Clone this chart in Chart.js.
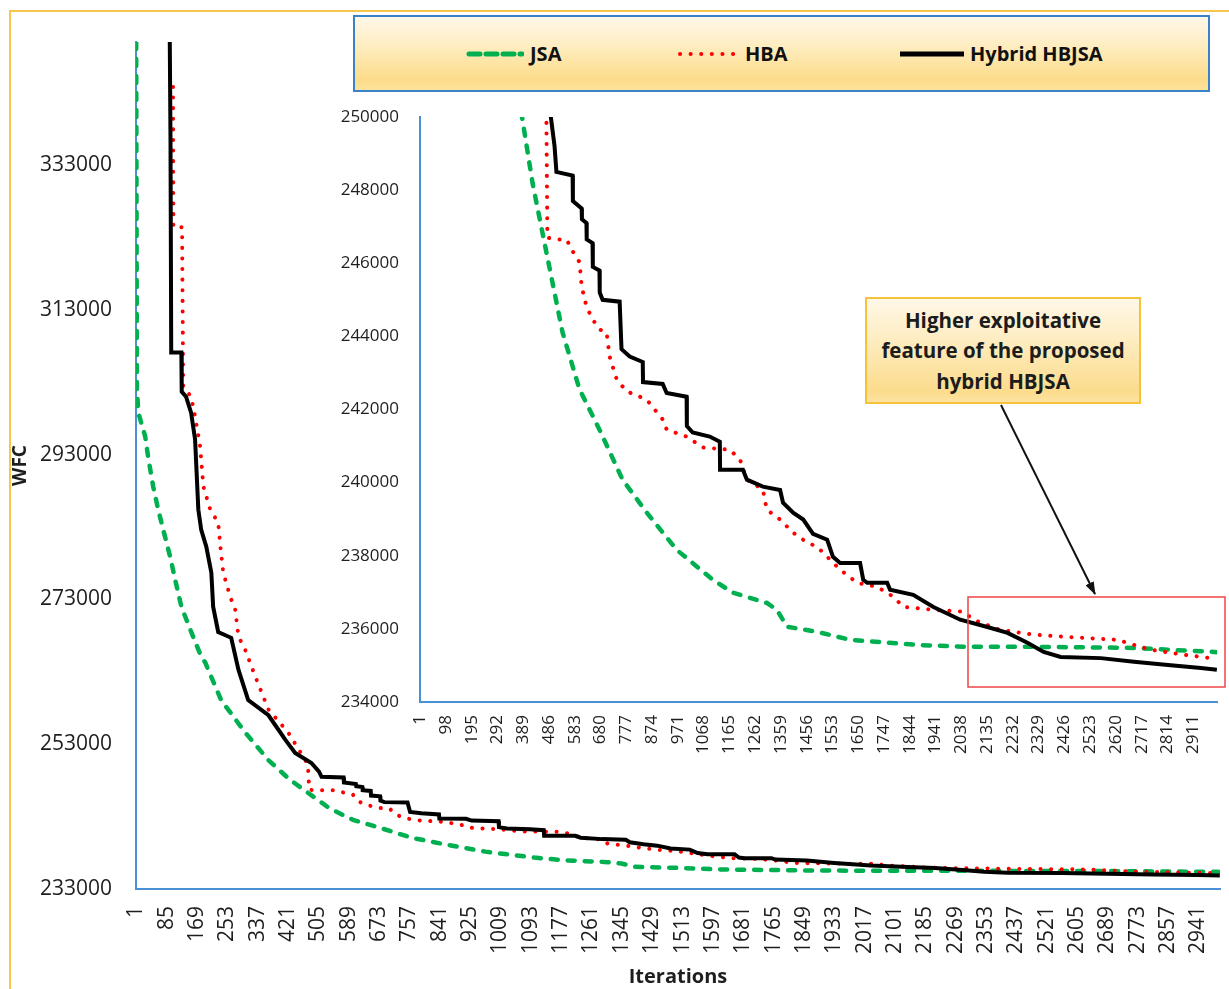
<!DOCTYPE html>
<html>
<head>
<meta charset="utf-8">
<script src="https://cdn.jsdelivr.net/npm/chart.js@4.4.0/dist/chart.umd.min.js"></script>
<style>
  body { margin: 0; background: #fff; }
  #wrap { position: relative; width: 1229px; height: 989px; overflow: hidden; background: #fff; font-family: 'Open Sans', sans-serif; }
  #frame { position: absolute; left: 9px; top: 10px; width: 1300px; height: 1100px; border-left: 2px solid #f7c64c; border-top: 2px solid #f7c64c; }
  canvas { position: absolute; left: 0; top: 0; }
  #marks { position: absolute; left: 0; top: 0; pointer-events: none; }
  #legend { position: absolute; left: 353px; top: 15px; width: 853px; height: 73px; border: 2px solid #3a82c8;
    background: linear-gradient(to bottom, #fff7e9 0%, #feedc0 40%, #fcdc8a 85%, #fde29c 100%); }
  .item { position: absolute; top: 0; height: 73px; display: flex; align-items: center; font-weight: bold; font-size: 20px; color: #111; }
  .item svg { margin-right: 6px; }
  #note { position: absolute; left: 865px; top: 297px; width: 272px; height: 103px; border: 2px solid #f5c23c;
    background: linear-gradient(to bottom, #fff8e8 0%, #feeec6 35%, #fcdc8c 90%, #fde3a2 100%);
    display: flex; align-items: center; justify-content: center; text-align: center;
    font-weight: bold; font-size: 20.5px; line-height: 30.5px; color: #1c1c1c; }
</style>
</head>
<body>
<div id="wrap">
  <div id="frame"></div>
  <canvas id="mainChart" width="1229" height="989"></canvas>
  <canvas id="insetChart" width="1229" height="989"></canvas>
  <svg id="marks" width="1229" height="989">
    <defs>
      <marker id="head" markerWidth="13" markerHeight="9" refX="12" refY="4.5" orient="auto" markerUnits="userSpaceOnUse">
        <path d="M0,0 L13,4.5 L0,9 z" fill="#111"></path>
      </marker>
    </defs>
    <line x1="1001" y1="405" x2="1095" y2="594" stroke="#111" stroke-width="2" marker-end="url(#head)"></line>
    <rect x="968" y="597" width="257" height="90" fill="none" stroke="#f04545" stroke-width="1.5"></rect>
  </svg>
  <div id="legend">
    <div class="item" style="left:111px"><svg width="58" height="10"><line x1="3" y1="5" x2="56" y2="5" stroke="#00b050" stroke-width="5" stroke-dasharray="11 6" stroke-linecap="round"></line></svg>JSA</div>
    <div class="item" style="left:322px"><svg width="62" height="10"><line x1="3" y1="5" x2="60" y2="5" stroke="#ff0000" stroke-width="4" stroke-dasharray="0.1 10.5" stroke-linecap="round"></line></svg>HBA</div>
    <div class="item" style="left:545px"><svg width="64" height="10"><line x1="0" y1="5" x2="64" y2="5" stroke="#000" stroke-width="5"></line></svg>Hybrid HBJSA</div>
  </div>
  <div id="note">Higher exploitative<br>feature of the proposed<br>hybrid HBJSA</div>
</div>
<script>
// tick values
const mainXTicks = [1, 85, 169, 253, 337, 421, 505, 589, 673, 757, 841, 925, 1009, 1093, 1177, 1261, 1345, 1429,
  1513, 1597, 1681, 1765, 1849, 1933, 2017, 2101, 2185, 2269, 2353, 2437, 2521, 2605, 2689, 2773, 2857, 2941];
const mainYTicks = [233000, 253000, 273000, 293000, 313000, 333000];
const insetXTicks = [1, 98, 195, 292, 389, 486, 583, 680, 777, 874, 971, 1068, 1165, 1262, 1359, 1456, 1553,
  1650, 1747, 1844, 1941, 2038, 2135, 2232, 2329, 2426, 2523, 2620, 2717, 2814, 2911];
const insetYTicks = [234000, 236000, 238000, 240000, 242000, 244000, 246000, 248000, 250000];

// [iteration, WFC]
const jsa = [
  [1, 350000], [3, 302000], [7, 298800], [26, 295500], [34, 292700], [48, 288600], [62, 285400], [76, 282600],
  [95, 278900], [109, 275700], [126, 272000], [151, 268800], [181, 265100], [192, 264300], [236, 259100],
  [303, 254600], [367, 250800], [424, 248200], [461, 246850], [499, 245480], [537, 244110], [601, 242550],
  [676, 241450], [763, 240080], [854, 239180], [967, 238160], [1103, 237340], [1178, 236990], [1306, 236710],
  [1344, 236520], [1382, 236060], [1495, 235920], [1620, 235700], [1873, 235560], [2061, 235510], [2311, 235510],
  [2688, 235480], [2816, 235430], [2990, 235370], [3000, 235360]
];
const hba = [
  [103, 343800], [104, 324400], [128, 324400], [131, 302400], [153, 301000], [164, 298300], [178, 294100],
  [187, 288600], [206, 285400], [228, 283600], [234, 280300], [242, 276700], [261, 273400], [275, 271600],
  [284, 267900], [303, 266000], [331, 262300], [367, 257800], [422, 254600], [469, 250800], [476, 250200],
  [480, 246700], [514, 246650], [552, 246650], [575, 246330], [601, 246030], [609, 245370], [627, 244820],
  [650, 244470], [676, 244190], [703, 244110], [714, 243450], [741, 242820], [778, 242500], [854, 242270],
  [914, 241730], [929, 241450], [1004, 241260], [1065, 240960], [1167, 240900], [1205, 240630], [1231, 240080],
  [1291, 239810], [1306, 239260], [1356, 238990], [1405, 238630], [1458, 238360], [1495, 238250], [1582, 237620],
  [1646, 237260], [1721, 237150], [1782, 236880], [1820, 236600], [1933, 236520], [2046, 236470], [2084, 236250],
  [2185, 235970], [2311, 235840], [2437, 235780], [2626, 235700], [2688, 235560], [2751, 235430], [2877, 235290],
  [2978, 235200], [3000, 235190]
];
const hybrid = [
  [94, 350000], [96, 336300], [98, 307100], [126, 307100], [127, 301700], [139, 301000], [153, 298800],
  [164, 295100], [173, 285400], [181, 282600], [195, 280300], [209, 276700], [214, 272000], [228, 268500],
  [264, 267700], [284, 263300], [311, 259100], [367, 257000], [414, 253600], [441, 251800], [486, 250400],
  [507, 249200], [514, 248500], [575, 248400], [576, 247700], [609, 247500], [610, 247200], [627, 247100],
  [628, 246650], [650, 246550], [651, 245900], [676, 245800], [677, 245200], [688, 245000], [752, 244950],
  [759, 243650], [790, 243450], [839, 243300], [840, 242750], [914, 242700], [929, 242450], [1004, 242350],
  [1005, 241550], [1027, 241370], [1091, 241260], [1129, 241120], [1130, 240350], [1216, 240350], [1231, 240080],
  [1291, 239890], [1356, 239800], [1367, 239450], [1405, 239180], [1443, 238990], [1480, 238600], [1533, 238440],
  [1555, 237970], [1582, 237800], [1657, 237800], [1669, 237340], [1684, 237260], [1759, 237260], [1770, 237070],
  [1857, 236930], [1933, 236600], [2034, 236250], [2136, 236050], [2212, 235890], [2287, 235620], [2348, 235370],
  [2412, 235230], [2563, 235200], [2688, 235100], [2816, 235010], [2940, 234930], [3000, 234880]
];

Chart.defaults.font.family = "'Open Sans', sans-serif";
Chart.defaults.color = "#1e1e1e";
const axisBlue = "#4a90d6";

function toXY(pairs) {
    return pairs.map(p => ({ x: p[0], y: p[1] }));
}

function makeSets() {
    return [
        { label: "Hybrid HBJSA", data: toXY(hybrid), borderColor: "#000", borderWidth: 4, order: 0 },
        { label: "HBA", data: toXY(hba), borderColor: "#ff0000", borderWidth: 4,
          borderDash: [0.1, 10.5], borderCapStyle: "round", order: 1 },
        { label: "JSA", data: toXY(jsa), borderColor: "#00b050", borderWidth: 4.5,
          borderDash: [7, 10], borderCapStyle: "round", order: 2 }
    ].map(d => Object.assign({ pointRadius: 0, tension: 0, fill: false }, d));
}

function makeChart(id, cfg) {
    return new Chart(document.getElementById(id), {
        type: "line",
        data: { datasets: makeSets() },
        options: {
            responsive: false,
            animation: false,
            events: [],
            layout: { padding: cfg.padding },
            plugins: { legend: { display: false }, tooltip: { enabled: false } },
            scales: {
                x: {
                    type: "linear", min: 0.5, max: 3000.5,
                    afterBuildTicks: s => { s.ticks = cfg.xTicks.map(v => ({ value: v })); },
                    afterFit: s => { s.height = cfg.xHeight; s.paddingLeft = 0; s.paddingRight = 0; },
                    grid: { display: false, drawTicks: false },
                    border: { display: true, color: axisBlue, width: 2 },
                    ticks: { autoSkip: false, minRotation: 90, maxRotation: 90, padding: cfg.xPad,
                             font: { size: cfg.xFont }, callback: v => String(v) },
                    title: cfg.xTitle
                },
                y: {
                    type: "linear", min: cfg.yMin, max: cfg.yMax,
                    afterBuildTicks: s => { s.ticks = cfg.yTicks.map(v => ({ value: v })); },
                    afterFit: s => { s.width = cfg.yWidth; },
                    grid: { display: false, drawTicks: false },
                    border: { display: true, color: axisBlue, width: 2 },
                    ticks: { padding: cfg.yPad, font: { size: cfg.yFont }, callback: v => String(v) },
                    title: cfg.yTitle
                }
            }
        }
    });
}

// main chart
makeChart("mainChart", {
    padding: { left: 0, top: 42, right: 9, bottom: 0 },
    xTicks: mainXTicks, yTicks: mainYTicks,
    yMin: 233000, yMax: 350000,
    xHeight: 100, yWidth: 136,
    xPad: 17, yPad: 24, xFont: 21, yFont: 21,
    xTitle: { display: true, text: "Iterations", font: { size: 20, weight: "bold" }, padding: { top: 0, bottom: 0 } },
    yTitle: { display: true, text: "WFC", font: { size: 19, weight: "bold" }, padding: { top: 9, bottom: 0 } }
});

// zoomed inset
makeChart("insetChart", {
    padding: { left: 299, top: 117, right: 12, bottom: 227 },
    xTicks: insetXTicks, yTicks: insetYTicks,
    yMin: 234000, yMax: 250000,
    xHeight: 60, yWidth: 121,
    xPad: 13, yPad: 21, xFont: 17, yFont: 17,
    xTitle: { display: false },
    yTitle: { display: false }
});
</script>
</body>
</html>
